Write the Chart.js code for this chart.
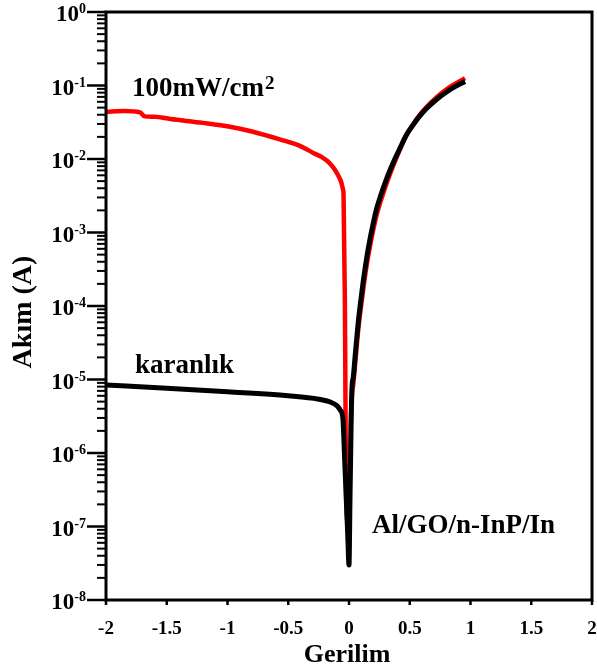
<!DOCTYPE html>
<html>
<head>
<meta charset="utf-8">
<script src="https://cdn.jsdelivr.net/npm/chart.js@4"></script>
<style>
  html, body { margin: 0; padding: 0; background: #fff; }
  canvas { display: block; }
</style>
</head>
<body>
<canvas id="iv" width="597" height="671"></canvas>
<script>
/* Veriler: karanlik ve aydinlatma (100mW/cm2) altinda akim-gerilim */
var darkV = [-2, -1.5, -1, -0.5, -0.25, -0.15, -0.1, -0.07, -0.05, -0.035, -0.02, -0.01, 0,
    0.008, 0.018, 0.025, 0.035, 0.05, 0.077, 0.1, 0.12, 0.15, 0.175, 0.2, 0.23, 0.26, 0.3,
    0.34, 0.38, 0.42, 0.47, 0.53, 0.58, 0.64, 0.72, 0.8, 0.88, 0.955];
var darkI = [8.4e-6, 7.6e-6, 6.8e-6, 6.0e-6, 5.4e-6, 4.9e-6, 4.4e-6, 3.8e-6, 2.9e-6, 7.6e-7, 1.9e-7, 7.4e-8, 3e-8,
    2.3e-7, 2.8e-6, 8e-6, 1.07e-5, 2.04e-5, 6.2e-5, 1.29e-4, 2.34e-4, 5.0e-4, 8.5e-4, 1.35e-3, 2.19e-3, 3.16e-3, 4.9e-3,
    7.2e-3, 1.02e-2, 1.41e-2, 2.09e-2, 2.95e-2, 3.8e-2, 4.9e-2, 6.46e-2, 8.1e-2, 9.8e-2, 0.113];

var lightV = [-2, -1.85, -1.72, -1.68, -1.6, -1.47, -1.2, -0.98, -0.79, -0.57, -0.4, -0.29, -0.22, -0.16, -0.12,
    -0.09, -0.065, -0.05, -0.045, -0.034, -0.029, -0.025, -0.015, -0.005, 0.005, 0.015, 0.025, 0.035, 0.05,
    0.077, 0.1, 0.12, 0.15, 0.175, 0.2, 0.23, 0.26, 0.3, 0.34, 0.38, 0.42, 0.47, 0.53, 0.58, 0.64,
    0.72, 0.8, 0.88, 0.955];
var lightI = [4.4e-2, 4.5e-2, 4.3e-2, 3.8e-2, 3.75e-2, 3.5e-2, 3.1e-2, 2.75e-2, 2.35e-2, 1.85e-2, 1.5e-2, 1.2e-2, 1.05e-2, 8.8e-3, 7.3e-3,
    6.0e-3, 4.9e-3, 3.9e-3, 3.3e-3, 1.2e-4, 5.3e-6, 4.3e-7, 1.2e-7, 8e-8, 3e-7, 2.5e-6, 6.5e-6, 8.5e-6, 1.6e-5,
    4.9e-5, 1.02e-4, 1.85e-4, 4.0e-4, 6.8e-4, 1.1e-3, 1.8e-3, 2.65e-3, 4.2e-3, 6.4e-3, 9.4e-3, 1.35e-2, 2.07e-2, 3.0e-2, 3.95e-2, 5.15e-2,
    6.9e-2, 8.8e-2, 0.107, 0.126];

/* Eksen etiketleri */
var yPowers = [0, -1, -2, -3, -4, -5, -6, -7, -8];
var xTicks = [-2, -1.5, -1, -0.5, 0, 0.5, 1, 1.5, 2];
var xTickLabels = ['-2', '-1.5', '-1', '-0.5', '0', '0.5', '1', '1.5', '2'];

function pts(v, i) {
    return v.map(function (x, k) { return { x: x, y: i[k] }; });
}

var serif = '"Liberation Serif", "Times New Roman", serif';

/* Eksenler, cerceve ve yazilar */
var framePlugin = {
    id: 'frame',
    afterDatasetsDraw: function (chart) {
        var ctx = chart.ctx;
        var a = chart.chartArea;
        var xs = chart.scales.x;
        var ys = chart.scales.y;
        ctx.save();
        ctx.strokeStyle = '#000';
        ctx.fillStyle = '#000';

        // cerceve
        ctx.lineWidth = 3;
        ctx.strokeRect(a.left, a.top, a.right - a.left, a.bottom - a.top);

        // y ana ve ara cizgiler
        ctx.lineWidth = 2.5;
        yPowers.forEach(function (p) {
            var py = ys.getPixelForValue(Math.pow(10, p));
            ctx.beginPath();
            ctx.moveTo(a.left - 19, py);
            ctx.lineTo(a.left, py);
            ctx.stroke();
        });
        ctx.lineWidth = 2;
        for (var p = -8; p < 0; p++) {
            for (var m = 2; m <= 9; m++) {
                var py = ys.getPixelForValue(m * Math.pow(10, p));
                ctx.beginPath();
                ctx.moveTo(a.left - 9, py);
                ctx.lineTo(a.left, py);
                ctx.stroke();
            }
        }

        // x cizgileri
        ctx.lineWidth = 2.5;
        xTicks.forEach(function (v) {
            var px = xs.getPixelForValue(v);
            ctx.beginPath();
            ctx.moveTo(px, a.bottom);
            ctx.lineTo(px, a.bottom + 5);
            ctx.stroke();
        });

        // y etiketleri 10^n
        ctx.textBaseline = 'alphabetic';
        ctx.textAlign = 'left';
        yPowers.forEach(function (p) {
            var py = ys.getPixelForValue(Math.pow(10, p));
            ctx.font = 'bold 14px ' + serif;
            var e = String(p);
            var ew = ctx.measureText(e).width;
            ctx.font = 'bold 23px ' + serif;
            var bw = ctx.measureText('10').width;
            var right = a.left - 20;
            ctx.fillText('10', right - ew - bw, py + 9);
            ctx.font = 'bold 14px ' + serif;
            ctx.fillText(e, right - ew, py + 1);
        });

        // x etiketleri
        ctx.font = 'bold 19px ' + serif;
        ctx.textAlign = 'center';
        xTicks.forEach(function (v, k) {
            ctx.fillText(xTickLabels[k], xs.getPixelForValue(v), a.bottom + 34);
        });

        // eksen basliklari
        ctx.font = 'bold 26px ' + serif;
        ctx.fillText('Gerilim', (a.left + a.right) / 2 - 2, a.bottom + 62);
        ctx.save();
        ctx.translate(31, 312);
        ctx.rotate(-Math.PI / 2);
        ctx.font = 'bold 28px ' + serif;
        ctx.fillText('Akım (A)', 0, 0);
        ctx.restore();

        // aciklamalar
        ctx.textAlign = 'left';
        ctx.font = 'bold 27px ' + serif;
        ctx.fillText('100mW/cm', 132, 96);
        var w = ctx.measureText('100mW/cm').width;
        ctx.font = 'bold 19px ' + serif;
        ctx.fillText('2', 132 + w + 1, 89);
        ctx.font = 'bold 27px ' + serif;
        ctx.fillText('karanlık', 135, 373);
        ctx.fillText('Al/GO/n-InP/In', 372, 533);

        ctx.restore();
    }
};

var chartIV = new Chart(document.getElementById('iv'), {
    type: 'line',
    data: {
        datasets: [
            {
                label: 'karanlık',
                data: pts(darkV, darkI),
                borderColor: '#000000',
                borderWidth: 5,
                pointRadius: 0,
                cubicInterpolationMode: 'monotone',
                order: 0
            },
            {
                label: '100mW/cm2',
                data: pts(lightV, lightI),
                borderColor: '#ff0000',
                borderWidth: 4.5,
                pointRadius: 0,
                cubicInterpolationMode: 'monotone',
                order: 1
            }
        ]
    },
    options: {
        responsive: false,
        maintainAspectRatio: false,
        animation: false,
        layout: { padding: { left: 106, top: 12, right: 5, bottom: 71 } },
        plugins: {
            legend: { display: false },
            tooltip: { enabled: false }
        },
        scales: {
            x: { type: 'linear', min: -2, max: 2, display: false },
            y: { type: 'logarithmic', min: 1e-8, max: 1, display: false }
        }
    },
    plugins: [framePlugin]
});
</script>
</body>
</html>
